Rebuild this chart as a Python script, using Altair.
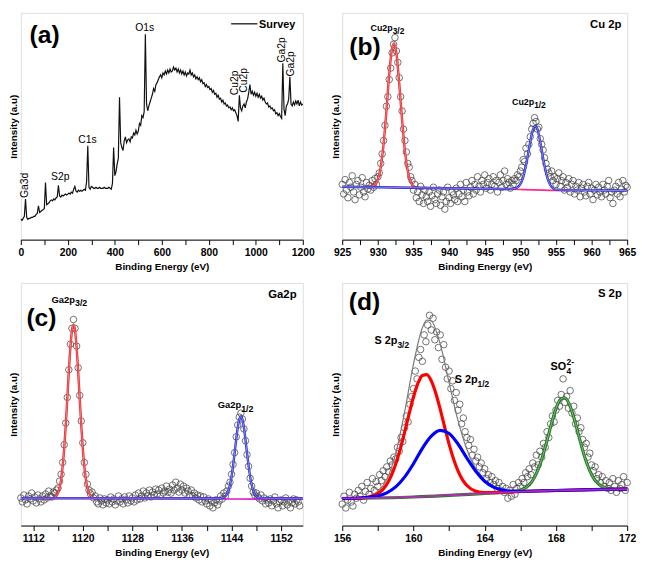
import altair as alt
import pandas as pd

FONT = "Liberation Sans"

# ---------------- (a) survey spectrum ----------------
survey_energy = list(range(0, 1201, 5))
survey_intensity = [
    21, 20, 22, 24, 42, 23, 21, 22, 22, 23, 23, 24, 24, 26, 27, 35, 28, 29, 30, 31,
    32, 59, 36, 37, 38, 40, 41, 40, 42, 41, 43, 44, 56, 45, 44, 46, 45, 46, 47, 46,
    47, 48, 47, 49, 48, 52, 55, 50, 49, 51, 50, 51, 50, 51, 52, 51, 60, 97, 54, 52,
    55, 54, 53, 53, 54, 53, 53, 54, 53, 53, 53, 54, 53, 53, 53, 54, 53, 52, 58, 95,
    66, 70, 78, 84, 147, 100, 95, 92, 102, 106, 100, 103, 104, 101, 106, 105, 110, 108, 113, 109,
    112, 120, 118, 128, 126, 132, 212, 140, 133, 138, 142, 146, 150, 156, 153, 160, 162, 165, 168, 170,
    167, 172, 170, 174, 171, 175, 172, 176, 173, 174, 178, 175, 177, 173, 176, 172, 175, 171, 174, 170,
    173, 169, 172, 171, 175, 170, 172, 168, 170, 166, 168, 165, 167, 163, 165, 161, 162, 158, 160, 157,
    158, 155, 156, 152, 154, 150, 151, 147, 149, 145, 146, 142, 144, 140, 141, 138, 139, 136, 137, 134,
    136, 133, 134, 131, 128, 122, 149, 136, 133, 138, 140, 136, 142, 145, 152, 160, 150, 153, 149, 152,
    148, 151, 147, 150, 146, 148, 144, 146, 142, 140, 141, 137, 138, 135, 136, 133, 134, 130, 131, 128,
    130, 127, 125, 182, 135, 128, 138, 140, 145, 168, 140, 138, 142, 139, 143, 140, 144, 138, 142, 139,
    140,
]
survey_ticks = [0, 100, 200, 300, 400, 500, 600, 700, 800, 900, 1000, 1100, 1200]
survey_labels_h = ["O1s", "C1s", "S2p"]
survey_labels_h_x = [527, 284, 168]
survey_labels_h_y = [215, 100, 62]
survey_labels_v = ["Ga3d", "Cu2p", "Cu2p", "Ga2p", "Ga2p"]
survey_labels_v_x = [20, 910, 952, 1110, 1148]
survey_labels_v_y = [43, 149, 151.7, 182.7, 168.3]

# ---------------- (b) Cu 2p ----------------
cu_energy = [round(925 + 0.2 * i, 1) for i in range(201)]
cu_counts = [
    58, 48, 63, 52, 44, 60, 55, 67, 50, 42,
    58, 62, 47, 55, 65, 50, 45, 60, 53, 57,
    52, 62, 55, 64, 58, 66, 70, 80, 90, 104,
    120, 140, 150, 168, 180, 196, 205, 212, 198, 186,
    170, 150, 135, 116, 104, 92, 80, 76, 66, 62,
    52, 58, 44, 50, 40, 56, 47, 38, 52, 45,
    40, 50, 35, 46, 55, 42, 38, 48, 52, 36,
    45, 50, 32, 40, 55, 44, 38, 50, 47, 42,
    54, 40, 48, 58, 45, 52, 40, 60, 50, 46,
    55, 62, 48, 58, 52, 66, 56, 50, 62, 58,
    68, 54, 60, 64, 52, 58, 66, 56, 62, 50,
    60, 68, 55, 62, 72, 58, 64, 60, 54, 62,
    58, 64, 62, 68, 66, 72, 76, 84, 82, 96,
    90, 100, 108, 116, 122, 128, 124, 116, 118, 106,
    100, 94, 86, 80, 74, 70, 66, 72, 62, 66,
    58, 64, 70, 56, 62, 66, 52, 60, 55, 64,
    50, 58, 62, 48, 56, 52, 60, 45, 54, 58,
    50, 46, 56, 60, 48, 54, 42, 52, 58, 47,
    55, 50, 45, 58, 52, 48, 56, 62, 44, 50,
    38, 52, 56, 48, 60, 45, 53, 62, 50, 57,
    55,
]
cu_base_x = [925, 930, 935, 940, 945, 950, 955, 957]
cu_base_y = [55.6, 55.2, 53.9, 53.6, 53.3, 52.6, 51.6, 51.0]
cu_red_x = [928.0, 928.5, 929.0, 929.5, 930.0, 930.4, 930.8, 931.2, 931.6, 932.0,
            932.3, 932.6, 933.0, 933.4, 933.8, 934.2, 934.6, 935.0, 935.6, 936.5]
cu_red_y = [55.3, 55.3, 56.0, 57.0, 63.0, 76.0, 100.0, 135.0, 174.0, 201.0,
            206.0, 196.0, 164.0, 126.0, 93.0, 72.0, 61.0, 56.0, 54.5, 54.0]
cu_blue_x = [925, 930, 935, 940, 945, 948.5, 949.0, 949.5, 950.0, 950.4, 950.8, 951.2, 951.6,
             952.0, 952.3, 952.6, 953.0, 953.4, 953.8, 954.2, 954.6, 955.0, 955.5, 956.5, 960, 965]
cu_blue_y = [55.5, 55.0, 54.5, 54.0, 53.5, 53.2, 53.3, 54.4, 58.2, 65.4, 78.0, 94.6, 110.5,
             119.0, 118.0, 110.0, 94.0, 77.5, 64.8, 57.3, 53.8, 52.5, 52.2, 52.0, 51.7, 51.5]
cu_ticks = [925, 927.5, 930, 932.5, 935, 937.5, 940, 942.5, 945, 947.5, 950, 952.5, 955, 957.5, 960, 962.5, 965]

# ---------------- (c) Ga 2p ----------------
ga_energy = [round(1110 + 0.25 * i, 2) for i in range(181)]
ga_counts = [
    28, 24, 31, 26, 22, 30, 27, 33,
    25, 29, 23, 31, 27, 24, 30, 26,
    32, 28, 35, 30, 29, 34, 33, 36,
    38, 45, 52, 64, 82, 104, 130, 158,
    184, 200, 209, 200, 182, 160, 132, 106,
    84, 64, 52, 42, 36, 32, 34, 28,
    30, 24, 22, 28, 25, 21, 27, 23,
    26, 22, 29, 24, 27, 21, 25, 30,
    24, 27, 22, 29, 26, 23, 30, 25,
    28, 24, 31, 26, 33, 27, 30, 35,
    28, 33, 30, 36, 29, 34, 31, 37,
    32, 36, 30, 38, 33, 35, 40, 34,
    37, 33, 41, 36, 44, 38, 34, 42,
    36, 40, 33, 38, 35, 31, 36, 30,
    33, 28, 31, 26, 30, 24, 29, 25,
    22, 27, 20, 25, 18, 23, 26, 21,
    25, 30, 27, 33, 30, 35, 40, 44,
    52, 62, 74, 90, 102, 110, 114, 108,
    98, 86, 72, 60, 48, 40, 34, 31,
    33, 29, 27, 31, 25, 28, 22, 26,
    23, 27, 20, 25, 29, 22, 18, 24,
    26, 20, 24, 28, 21, 25, 18, 23,
    27, 22, 26, 24, 20,
]
ga_base_x = [1110, 1120, 1130, 1140, 1150, 1155.5]
ga_base_y = [27.3, 27.2, 27.1, 27.0, 26.8, 26.7]
ga_red_x = [1113.0, 1114.0, 1115.0, 1115.25, 1115.5, 1115.75, 1116.0, 1116.25, 1116.5, 1116.75,
            1117.0, 1117.25, 1117.5, 1117.75, 1118.0, 1118.25, 1118.5, 1118.75, 1119.0, 1119.25,
            1119.5, 1119.75, 1120.0, 1120.25, 1120.5, 1120.75, 1121.0, 1121.25, 1121.5, 1121.75,
            1122.0, 1123.0]
ga_red_y = [27.7, 27.7, 27.9, 28.2, 28.9, 30.4, 33.2, 38.4, 46.9, 60.0,
            78.3, 101.7, 128.7, 156.7, 180.7, 197.7, 203.7, 197.7, 180.7, 156.7,
            128.7, 101.7, 78.3, 60.0, 46.9, 38.4, 33.2, 30.4, 28.9, 28.2,
            27.9, 27.7]
ga_blue_x = [1110, 1120, 1130, 1140, 1142.0, 1142.5, 1142.75, 1143.0, 1143.25, 1143.5, 1143.75,
             1144.0, 1144.25, 1144.5, 1144.75, 1145.0, 1145.25, 1145.5, 1145.75, 1146.0, 1146.25,
             1146.5, 1146.75, 1147.0, 1147.25, 1147.5, 1147.75, 1148.0, 1148.5, 1150, 1155.5]
ga_blue_y = [27.8, 27.8, 27.8, 27.7, 27.7, 28.1, 28.6, 29.8, 31.9, 35.5, 41.3,
             49.7, 60.7, 73.7, 87.2, 99.3, 107.7, 110.7, 107.7, 99.3, 87.2,
             73.7, 60.7, 49.7, 41.3, 35.5, 31.9, 29.8, 28.1, 27.7, 27.7]
ga_ticks = [1112, 1116, 1120, 1124, 1128, 1132, 1136, 1140, 1144, 1148, 1152]

# ---------------- (d) S 2p ----------------
s_energy = [round(156 + 0.1 * i, 1) for i in range(161)]
s_counts = [
    22, 30, 18, 26, 34, 24, 20, 32, 28, 36,
    30, 40, 26, 35, 44, 32, 38, 48, 36, 45,
    40, 52, 46, 56, 50, 60, 55, 66, 62, 70,
    68, 80, 76, 90, 86, 100, 112, 106, 124, 132,
    140, 158, 150, 172, 180, 168, 195, 188, 205, 215,
    200, 212, 190, 198, 182, 195, 170, 185, 162, 150,
    158, 140, 148, 128, 136, 118, 124, 104, 110, 96,
    90, 82, 88, 72, 78, 66, 70, 60, 64, 54,
    58, 48, 52, 44, 50, 42, 46, 38, 44, 36,
    40, 34, 38, 28, 36, 30, 42, 32, 38, 44,
    40, 48, 44, 54, 50, 58, 52, 64, 60, 72,
    62, 76, 70, 84, 80, 96, 90, 104, 112, 106,
    118, 128, 122, 134, 150, 126, 132, 120, 138, 115,
    122, 104, 110, 96, 100, 88, 80, 84, 70, 74,
    62, 56, 60, 48, 52, 44, 50, 40, 46, 38,
    44, 36, 48, 40, 34, 46, 38, 42, 50, 36,
    44,
]
s_base_x = [156, 158, 160, 162, 164, 166, 168, 170, 172]
s_base_y = [27.7, 28.4, 29.4, 31.2, 33.1, 34.8, 35.9, 36.7, 37.3]
s_red_x = [156.0, 156.5, 157.0, 157.5, 158.0, 158.25, 158.5, 158.75, 159.0, 159.25, 159.5,
           159.75, 160.0, 160.25, 160.5, 160.75, 161.0, 161.25, 161.5, 161.75, 162.0, 162.25,
           162.5, 162.75, 163.0, 163.5, 164.0, 164.5, 165.0, 166.0, 168.0, 170.0, 172.0]
s_red_y = [27.7, 27.9, 28.2, 29.3, 32.7, 36.3, 42.1, 50.7, 62.7, 77.7, 95.3,
           113.9, 131.4, 145.3, 153.5, 154.4, 148.0, 135.5, 119.0, 100.8, 83.2, 68.0,
           55.9, 47.0, 41.0, 35.2, 33.7, 33.7, 34.0, 34.8, 35.9, 36.7, 37.3]
s_blue_x = [156, 157, 157.5, 158, 158.5, 159, 159.5, 160, 160.5, 161, 161.5, 162,
            162.5, 163, 163.5, 164, 164.5, 165, 165.5, 166, 168, 170, 172]
s_blue_y = [27.7, 28.2, 28.9, 30.3, 33.5, 39.5, 49.5, 63.2, 79.0, 91.4, 97.3, 94.2,
            83.4, 69.0, 55.5, 45.3, 39.3, 36.3, 35.2, 35.1, 35.9, 36.7, 37.3]
s_green_x = [156, 160, 164, 165.5, 166.0, 166.5, 166.75, 167.0, 167.25, 167.5, 167.75, 168.0,
             168.25, 168.5, 168.75, 169.0, 169.25, 169.5, 169.75, 170.0, 170.5, 171.0, 171.5, 172.0]
s_green_y = [27.5, 29.2, 32.9, 34.6, 36.2, 41.6, 47.9, 57.4, 70.7, 87.0, 104.4, 119.5,
             129.0, 130.7, 124.0, 110.7, 94.0, 77.2, 62.9, 52.2, 41.0, 37.8, 37.25, 37.3]
s_env_x = [156, 157, 157.5, 158, 158.5, 159, 159.5, 160, 160.5, 160.75, 161, 161.5, 162, 162.5,
           163, 163.5, 164, 164.5, 165, 165.5, 166, 166.5, 167, 167.5, 168, 168.5, 169, 169.5,
           170, 170.5, 171, 172]
s_env_y = [27.7, 28.4, 29.9, 34.6, 47.0, 73.3, 115.7, 165.2, 202.3, 210.1, 209.2, 185.7, 146.2, 107.5,
           77.8, 58.0, 45.9, 39.4, 36.3, 35.4, 36.4, 41.6, 57.4, 87.0, 119.5, 130.7, 110.7, 77.2,
           52.2, 41.0, 37.8, 37.3]
s_ticks = [156, 158, 160, 162, 164, 166, 168, 170, 172]


# ---------------- helpers ----------------
def df(x, y, **extra):
    d = {"x": x, "y": y}
    d.update(extra)
    return pd.DataFrame(d)


def encoders(xdom, ydom, ticks, label_expr):
    X = alt.X("x:Q", scale=alt.Scale(domain=xdom, nice=False, zero=False),
              axis=alt.Axis(title="Binding Energy (eV)", values=ticks, labelExpr=label_expr, format="d",
                            tickSize=5, labelPadding=3, titlePadding=4, labelFlush=False,
                            labelOverlap=False, grid=False, domainColor="black", tickColor="black",
                            labelFontSize=10.5, titleFontSize=10, labelFontWeight="bold",
                            titleFontWeight="bold", labelFont=FONT, titleFont=FONT,
                            labelColor="black", titleColor="black"))
    Y = alt.Y("y:Q", scale=alt.Scale(domain=ydom, nice=False, zero=False),
              axis=alt.Axis(title="Intensity (a.u)", labels=False, ticks=False, domain=False,
                            grid=False, titlePadding=2, titleFontSize=10, titleFontWeight="bold",
                            titleFont=FONT, titleColor="black"))
    return X, Y


def line(data, X, Y, color, width, interp="monotone"):
    return alt.Chart(data).mark_line(color=color, strokeWidth=width, interpolate=interp).encode(x=X, y=Y)


def scatter(data, X, Y):
    return alt.Chart(data).mark_point(shape="circle", filled=False, size=44, strokeWidth=0.75,
                                      color="#444444", opacity=1).encode(x=X, y=Y)


def text(data, X, Y, size, weight="bold", align="left", baseline="alphabetic", angle=None):
    kw = dict(font=FONT, fontSize=size, fontWeight=weight, align=align, baseline=baseline, color="black")
    if angle is not None:
        kw["angle"] = angle
    return alt.Chart(data).mark_text(**kw).encode(x=X, y=Y, text="t:N")


W1, W2, H1, H2 = 286, 289, 230, 246

# ---- panel (a)
Xa, Ya = encoders([0, 1200], [0, 234], survey_ticks, "datum.value % 200 == 0 ? datum.label : ''")
pa = alt.layer(
    line(df(survey_energy, survey_intensity), Xa, Ya, "#111111", 1.2, "linear"),
    text(df(survey_labels_h_x, survey_labels_h_y, t=survey_labels_h), Xa, Ya, 10.5, "normal", "center"),
    text(df(survey_labels_v_x, survey_labels_v_y, t=survey_labels_v), Xa, Ya, 10.5, "normal", "left", "middle", 270),
    alt.Chart(pd.DataFrame({"x": [895], "x2": [1007], "y": [222.7]})).mark_rule(color="black", strokeWidth=1.2)
    .encode(x=Xa, x2="x2:Q", y=Ya),
    text(df([1014], [218.5], t=["Survey"]), Xa, Ya, 11, "bold", "left"),
    text(df([37], [203], t=["(a)"]), Xa, Ya, 25, "bold", "left"),
).properties(width=W1, height=H1)

# ---- panel (b)
Xb, Yb = encoders([925, 965], [0, 238], cu_ticks, "datum.value % 5 == 0 ? datum.label : ''")
pb = alt.layer(
    scatter(df(cu_energy, cu_counts), Xb, Yb),
    line(df(cu_base_x, cu_base_y), Xb, Yb, "#ff2a8a", 1.6),
    line(df(cu_red_x, cu_red_y), Xb, Yb, "#e8252d", 2.4),
    line(df(cu_red_x, cu_red_y), Xb, Yb, "#ff9c9c", 0.7),
    line(df(cu_blue_x, cu_blue_y), Xb, Yb, "#2d2dc8", 2.4),
    line(df(cu_blue_x, cu_blue_y), Xb, Yb, "#a8aeff", 0.7),
    text(df([932.08, 951.94], [219.3, 141], t=["Cu2p", "Cu2p"]), Xb, Yb, 9, "bold", "right"),
    text(df([932.08, 951.94], [216, 138], t=["3/2", "1/2"]), Xb, Yb, 8.5, "bold", "left"),
    text(df([964.2], [222], t=["Cu 2p"]), Xb, Yb, 11.5, "bold", "right"),
    text(df([926.0], [194], t=["(b)"]), Xb, Yb, 25, "bold", "left"),
).properties(width=W2, height=H1)

# ---- panel (c)
Xc, Yc = encoders([1110, 1155.5], [0, 246], ga_ticks, "(datum.value - 1112) % 8 == 0 ? datum.label : ''")
pc = alt.layer(
    scatter(df(ga_energy, ga_counts), Xc, Yc),
    line(df(ga_base_x, ga_base_y), Xc, Yc, "#d81ad0", 1.6),
    line(df(ga_red_x, ga_red_y), Xc, Yc, "#e8252d", 2.4),
    line(df(ga_red_x, ga_red_y), Xc, Yc, "#ff9c9c", 0.7),
    line(df(ga_blue_x, ga_blue_y), Xc, Yc, "#2d2dc8", 2.4),
    line(df(ga_blue_x, ga_blue_y), Xc, Yc, "#a8aeff", 0.7),
    text(df([1118.74, 1145.56], [226, 119], t=["Ga2p", "Ga2p"]), Xc, Yc, 9.5, "bold", "right"),
    text(df([1118.74, 1145.56], [222.5, 115.5], t=["3/2", "1/2"]), Xc, Yc, 9, "bold", "left"),
    text(df([1154.5], [230.5], t=["Ga2p"]), Xc, Yc, 11.5, "bold", "right"),
    text(df([1110.9], [202], t=["(c)"]), Xc, Yc, 25, "bold", "left"),
).properties(width=W1, height=H2)

# ---- panel (d)
Xd, Yd = encoders([156, 172], [0, 248], s_ticks, "datum.value % 4 == 0 ? datum.label : ''")
pd_ = alt.layer(
    scatter(df(s_energy, s_counts), Xd, Yd),
    line(df(s_env_x, s_env_y), Xd, Yd, "#7a7a7a", 1.2),
    line(df(s_green_x, s_green_y), Xd, Yd, "#2a7a2a", 3.2),
    line(df(s_green_x, s_green_y), Xd, Yd, "#8fd08f", 0.8),
    line(df(s_red_x, s_red_y), Xd, Yd, "#ff0000", 3.2),
    line(df(s_blue_x, s_blue_y), Xd, Yd, "#0000ff", 3.2),
    line(df(s_base_x, s_base_y), Xd, Yd, "#b02ab0", 1.8),
    text(df([159.1, 163.6], [185.3, 145.3], t=["S 2p", "S 2p"]), Xd, Yd, 11, "bold", "right"),
    text(df([159.1, 163.6], [181.7, 141.7], t=["3/2", "1/2"]), Xd, Yd, 8.5, "bold", "left"),
    text(df([168.57], [158.7], t=["SO"]), Xd, Yd, 11, "bold", "right"),
    text(df([168.6], [154.7], t=["4"]), Xd, Yd, 8.5, "bold", "left"),
    text(df([168.6], [164.5], t=["2-"]), Xd, Yd, 8.5, "bold", "left"),
    text(df([171.7], [233.8], t=["S 2p"]), Xd, Yd, 11.5, "bold", "right"),
    text(df([156.37], [220], t=["(d)"]), Xd, Yd, 25, "bold", "left"),
).properties(width=W2, height=H2)

chart = alt.concat(pa, pb, pc, pd_, columns=2, spacing={"row": 44, "column": 40}, bounds="flush").properties(
    padding={"left": 0, "top": 0, "right": 2, "bottom": 0}
).configure_view(stroke="black", strokeWidth=1.1).configure(background="white")

chart.save("out.html", embed_options={"renderer": "svg", "actions": False})
